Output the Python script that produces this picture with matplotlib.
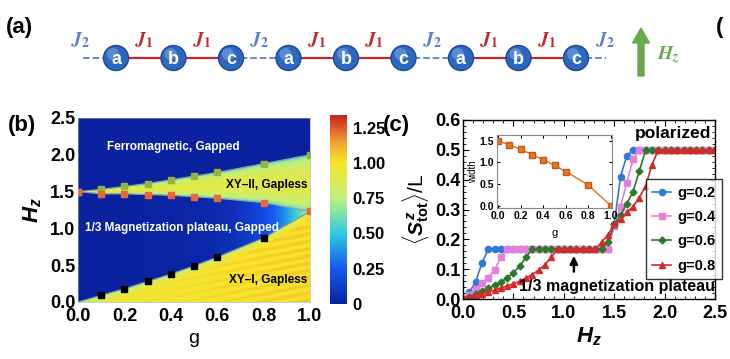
import numpy as np
import matplotlib.pyplot as plt
from matplotlib.colors import LinearSegmentedColormap
from matplotlib.patches import Circle

plt.rcParams['font.family'] = ['Liberation Sans', 'DejaVu Sans']
plt.rcParams['font.weight'] = 'bold'
plt.rcParams['mathtext.fontset'] = 'custom'
plt.rcParams['mathtext.rm'] = 'Liberation Sans:bold'
plt.rcParams['mathtext.it'] = 'Liberation Sans:italic:bold'
plt.rcParams['mathtext.bf'] = 'Liberation Sans:bold'

# ---- panel (b) phase boundaries ----
g_pts = [0.0, 0.1, 0.2, 0.3, 0.4, 0.5, 0.6, 0.8, 1.0]
h_upper = [1.5, 1.53, 1.57, 1.61, 1.66, 1.71, 1.76, 1.88, 2.0]
h_middle = [1.5, 1.47, 1.47, 1.46, 1.45, 1.43, 1.41, 1.35, 1.23]
g_low = [0.1, 0.2, 0.3, 0.4, 0.5, 0.6, 0.8]
h_lower = [0.09, 0.18, 0.28, 0.38, 0.49, 0.61, 0.87]

# ---- inset: plateau width ----
plateau_width = [1.5, 1.40, 1.30, 1.18, 1.06, 0.93, 0.79, 0.48, 0.0]

# ---- panel (c) magnetization curves ----
P = 1 / 6
hz = [0.0, 0.0625, 0.125, 0.1875, 0.25, 0.3125, 0.375, 0.4375, 0.5, 0.5625,
      0.625, 0.6875, 0.75, 0.8125, 0.875, 0.9375, 1.0, 1.0625, 1.125, 1.1875,
      1.25, 1.3125, 1.375, 1.4375, 1.5, 1.5625, 1.625, 1.6875, 1.75, 1.8125,
      1.875, 1.9375, 2.0, 2.0625, 2.125, 2.1875, 2.25, 2.3125, 2.375, 2.4375, 2.5]
m_g02 = [0, 0.022, 0.058, 0.12] + [P] * 20 + [0.25, 0.41, 0.48] + [0.5] * 14
m_g04 = [0, 0.015, 0.035, 0.052, 0.072, 0.097, 0.14] + [P] * 17 + [0.245, 0.31, 0.39, 0.47] + [0.5] * 13
m_g06 = [0, 0.008, 0.017, 0.026, 0.036, 0.046, 0.057, 0.07, 0.088, 0.11, 0.14] + [P] * 12 + \
        [0.19, 0.25, 0.28, 0.32, 0.36, 0.43] + [0.5] * 12
m_g08 = [0, 0.006, 0.012, 0.018, 0.024, 0.03, 0.037, 0.044, 0.051, 0.06, 0.07, 0.082, 0.097,
         0.115, 0.14] + [P] * 7 + [0.19, 0.215, 0.25, 0.267, 0.29, 0.31, 0.34, 0.38, 0.45] + [0.5] * 10
curve_labels = ['g=0.2', 'g=0.4', 'g=0.6', 'g=0.8']
curve_colors = ['#2f7ad8', '#e47fdc', '#2a7a2a', '#d42a2a']
curve_markers = ['o', 's', 'D', '^']

W, H = 730, 359
fig = plt.figure(figsize=(W / 100, H / 100), dpi=100)


def box(l, t, w, h):
    return [l / W, 1 - (t + h) / H, w / W, h / H]


# ================= panel (a) =================
axa = fig.add_axes(box(0, 0, 730, 100))
axa.set_xlim(0, 730)
axa.set_ylim(100, 0)
axa.axis('off')
axa.text(6, 27, '(a)', fontsize=16, va='center', ha='left')
sites = [116 + i * 57.5 for i in range(9)]
cy = 58
jblue, jred = '#5b82bc', '#c0282a'
axa.plot([83, sites[0]], [cy, cy], ls='--', color=jblue, lw=1.3)
axa.plot([sites[-1], 606], [cy, cy], ls='--', color=jblue, lw=1.3)
axa.text(81, 40, '$J_2$', math_fontfamily='stix', color=jblue, fontsize=14, ha='center', va='center')
axa.text(606, 40, '$J_2$', math_fontfamily='stix', color=jblue, fontsize=14, ha='center', va='center')
for i in range(8):
    xm = (sites[i] + sites[i + 1]) / 2
    if i % 3 == 2:
        axa.plot([sites[i], sites[i + 1]], [cy, cy], ls='--', color=jblue, lw=1.3)
        axa.text(xm, 40, '$J_2$', math_fontfamily='stix', color=jblue, fontsize=14, ha='center', va='center')
    else:
        axa.plot([sites[i], sites[i + 1]], [cy, cy], color=jred, lw=1.6)
        axa.text(xm, 40, '$J_1$', math_fontfamily='stix', color=jred, fontsize=14, ha='center', va='center')
for i, x in enumerate(sites):
    axa.add_patch(Circle((x, cy), 12.5, facecolor='#2d68c0', edgecolor='#1c4a94', lw=1, zorder=3))
    axa.add_patch(Circle((x - 3, cy - 4), 6, facecolor='#86aee8', edgecolor='none', alpha=0.5, zorder=3))
    axa.text(x, cy + 1, 'abc'[i % 3], color='white', fontsize=13, ha='center', va='center', zorder=4)
axa.arrow(641, 76, 0, -48, width=6, head_width=17, head_length=15, color='#6aa84f',
          length_includes_head=True)
axa.text(657, 55, '$H_z$', math_fontfamily='stix', color='#6aa84f', fontsize=14, ha='left', va='center')
axa.text(716, 28, '(', fontsize=16, ha='left', va='center')

# ================= panel (b) =================
cmap = LinearSegmentedColormap.from_list('phase', [
    (0.0, '#0a22a0'), (0.187, '#1458f2'), (0.373, '#2ecbe0'), (0.56, '#c2f07c'),
    (0.746, '#f8e428'), (0.86, '#f0a032'), (1.0, '#c81e1e')])
vmax = 1.34
gg, hh = np.meshgrid(np.linspace(0, 1, 300), np.linspace(0, 2.5, 400))
up = np.interp(gg, g_pts, h_upper)
mid = np.interp(gg, g_pts, h_middle)
lo = np.interp(gg, [0.0] + g_low + [1.0], [0.0] + h_lower + [h_middle[-1]])
field = np.zeros_like(gg)
xy2 = (hh > mid) & (hh < up)
t = (hh - mid) / (up - mid + 1e-9)
field[xy2] = (0.55 + 0.35 * np.sin(np.pi * t) ** 0.5)[xy2]
plat = (hh > lo) & (hh <= mid)
field[plat] = (0.8 * np.exp(-(1 - gg) / 0.14))[plat]
xy1 = hh <= lo
d = np.clip((lo - hh) / 0.12, 0, 1)
field[xy1] = (0.75 + 0.2 * d + 0.08 * gg + 0.035 * d * np.sin(2 * np.pi * (hh * 10 - gg * 6)))[xy1]

axb = fig.add_axes(box(78, 118, 232, 184))
im = axb.imshow(field, extent=[0, 1, 0, 2.5], origin='lower', aspect='auto', cmap=cmap,
                vmin=0, vmax=vmax, interpolation='bilinear')
axb.plot(g_pts, h_upper, color='#8f9fb2', lw=0.8)
axb.plot(g_pts, h_middle, color='#8f9fb2', lw=0.8)
axb.plot([0.0] + g_low + [1.0], [0.0] + h_lower + [h_middle[-1]], color='#6f8fb2', lw=0.8)
axb.plot(g_pts, h_upper, ls='none', marker='s', ms=4, color='#93b43c')
axb.plot(g_pts, h_middle, ls='none', marker='s', ms=4, color='#e8683a')
axb.plot(g_low, h_lower, ls='none', marker='s', ms=4, color='black')
axb.set_xlim(0, 1)
axb.set_ylim(0, 2.5)
axb.set_xticks([0, 0.2, 0.4, 0.6, 0.8, 1.0])
axb.set_xticklabels(['0.0', '0.2', '0.4', '0.6', '0.8', '1.0'])
axb.set_yticks([0, 0.5, 1.0, 1.5, 2.0, 2.5])
axb.set_yticklabels(['0.0', '0.5', '1.0', '1.5', '2.0', '2.5'])
axb.tick_params(labelsize=13, length=0, pad=2)
axb.tick_params(axis='x', pad=4)
for s in axb.spines.values():
    s.set_linewidth(0.4)
    s.set_color('#9aa')
axb.set_xlabel('g', fontsize=14, labelpad=4)
axb.set_ylabel('$H_z$', fontsize=16, labelpad=4)
axb.text(0.125, 2.1, 'Ferromagnetic, Gapped', color='white', fontsize=8.5, va='center')
axb.text(0.64, 1.59, 'XY–II, Gapless', color='black', fontsize=8.5, va='center')
axb.text(0.03, 1.0, '1/3 Magnetization plateau, Gapped', color='white', fontsize=8.5, va='center')
axb.text(0.65, 0.3, 'XY–I, Gapless', color='black', fontsize=8.5, va='center')
fig.text(8 / W, 1 - 125 / H, '(b)', fontsize=16, va='center', ha='left')

cax = fig.add_axes(box(330, 115, 17, 189))
cb = fig.colorbar(im, cax=cax)
cb.set_ticks([0, 0.25, 0.5, 0.75, 1.0, 1.25])
cb.set_ticklabels(['0', '0.25', '0.50', '0.75', '1.00', '1.25'])
cb.outline.set_visible(False)
cax.tick_params(labelsize=12, length=0, pad=4)

# ================= panel (c) =================
axc = fig.add_axes(box(463, 120, 252, 179))
for m, lab, c, mk in zip([m_g02, m_g04, m_g06, m_g08], curve_labels, curve_colors, curve_markers):
    axc.plot(hz, m, color=c, marker=mk, ms=4.5 if mk != 'D' else 3.5, lw=1.2, label=lab)
axc.set_xlim(0, 2.5)
axc.set_ylim(0, 0.6)
axc.set_xticks([0, 0.5, 1.0, 1.5, 2.0, 2.5])
axc.set_xticklabels(['0.0', '0.5', '1.0', '1.5', '2.0', '2.5'])
axc.set_yticks([0, 0.1, 0.2, 0.3, 0.4, 0.5, 0.6])
axc.set_yticklabels(['0.0', '0.1', '0.2', '0.3', '0.4', '0.5', '0.6'])
axc.minorticks_on()
axc.tick_params(which='both', direction='in', top=True, right=True, labelsize=13, pad=2)
axc.tick_params(axis='x', which='both', pad=4)
axc.tick_params(which='major', length=4)
axc.tick_params(which='minor', length=2)
for s in axc.spines.values():
    s.set_linewidth(1.0)
axc.set_xlabel('$H_z$', fontsize=16, labelpad=3)
axc.set_ylabel(r'$\langle S^z_{\mathrm{tot}}\rangle$/L', fontsize=15, labelpad=3)
axc.text(0.985, 0.927, 'polarized', transform=axc.transAxes, fontsize=12.5, ha='right', va='center')
axc.text(1.0, 0.07, '1/3 magnetization plateau', transform=axc.transAxes, fontsize=11.5,
         ha='right', va='center')
axc.annotate('', xy=(1.1, 0.145), xytext=(1.1, 0.092),
             arrowprops=dict(arrowstyle='-|>,head_width=0.22,head_length=0.45', color='black',
                             lw=1.8, shrinkA=0, shrinkB=0))
leg = axc.legend(loc='upper left', bbox_to_anchor=(0.725, 0.668), fontsize=10.5, frameon=True,
                 fancybox=False, edgecolor='black', handlelength=1.3, labelspacing=0.7,
                 borderpad=0.45, handletextpad=0.4, borderaxespad=0)
leg.get_frame().set_linewidth(1.0)
fig.text(383 / W, 1 - 126 / H, '(c)', fontsize=16, va='center', ha='left')

axi = fig.add_axes(box(497, 135, 115, 73))
axi.plot(g_pts, plateau_width, color='#e0701e', marker='s', ms=4.5, mfc='#e8742a', mec='#c05a14', lw=1.0)
axi.set_xlim(-0.01, 1.01)
axi.set_ylim(-0.05, 1.63)
axi.set_xticks([0, 0.2, 0.4, 0.6, 0.8, 1.0])
axi.set_xticklabels(['0.0', '0.2', '0.4', '0.6', '0.8', '1.0'])
axi.set_yticks([0, 0.5, 1.0, 1.5])
axi.set_yticklabels(['0.0', '0.5', '1.0', '1.5'])
axi.tick_params(direction='in', top=True, right=True, labelsize=7.5, length=2, pad=2)
for s in axi.spines.values():
    s.set_color('#888888')
    s.set_linewidth(0.8)
axi.set_xlabel('g', fontsize=8, labelpad=5)
axi.set_ylabel('width', fontsize=7, labelpad=1)

fig.savefig('out.png', dpi=100)
